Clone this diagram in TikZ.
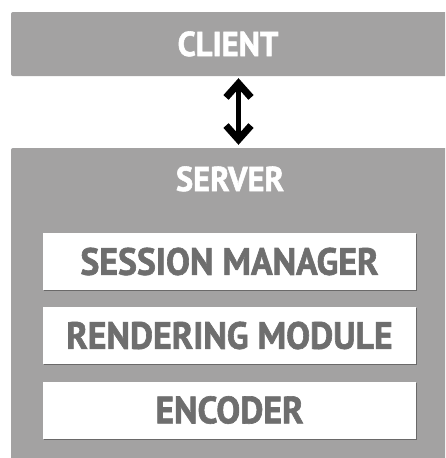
\documentclass[tikz,border=0pt]{standalone}
\usepackage{fontspec}
\setmainfont{PT Sans}
\newfontfamily\labelfont[FakeStretch=0.94,FakeBold=1.6]{PT Sans Bold}
\usetikzlibrary{arrows.meta,shadows}
\definecolor{panelgrey}{HTML}{A3A2A2}
\definecolor{labelgrey}{HTML}{6E6E6E}
\tikzset{
  panel/.style={fill=panelgrey, draw=none, rounded corners=2pt, inner sep=0pt},
  headtext/.style={text=white, font=\labelfont\fontsize{34.5}{34.5}\selectfont, inner sep=0pt, anchor=base},
  modbox/.style={fill=white, draw=none, minimum width=373pt, minimum height=57pt, inner sep=0pt,
    text=labelgrey, font=\labelfont\fontsize{38}{38}\selectfont,
    drop shadow={shadow xshift=0.6pt, shadow yshift=-1.4pt, opacity=0.35, fill=black}},
  biarrow/.style={line width=4.5pt, {Straight Barb[length=14pt,width=25pt,line width=7pt]}-{Straight Barb[length=14pt,width=25pt,line width=7pt]}}
}
\begin{document}
\begin{tikzpicture}[x=1pt,y=-1pt]
\useasboundingbox (0,0) rectangle (445,458);
\clip (0,0) rectangle (445,458);
\fill[white] (0,0) rectangle (445,458);
\node[panel, minimum width=439pt, minimum height=64pt] (client) at (230.5,44) {};
\node[panel, minimum width=439pt, minimum height=315pt] (server) at (230.5,305.5) {};
\node[headtext] (clientlabel) at (228,56) {CLIENT};
\node[headtext] (serverlabel) at (230,191) {SERVER};
\node[modbox] (session) at (229.5,261.5) {SESSION MANAGER};
\node[modbox] (render) at (229.5,335.5) {RENDERING MODULE};
\node[modbox] (encoder) at (229.5,410) {ENCODER};
\coordinate (ax) at (238.5,0);
\draw[biarrow, shorten <=2pt, shorten >=3pt] (client.south -| ax) -- (server.north -| ax);
\end{tikzpicture}
\end{document}
